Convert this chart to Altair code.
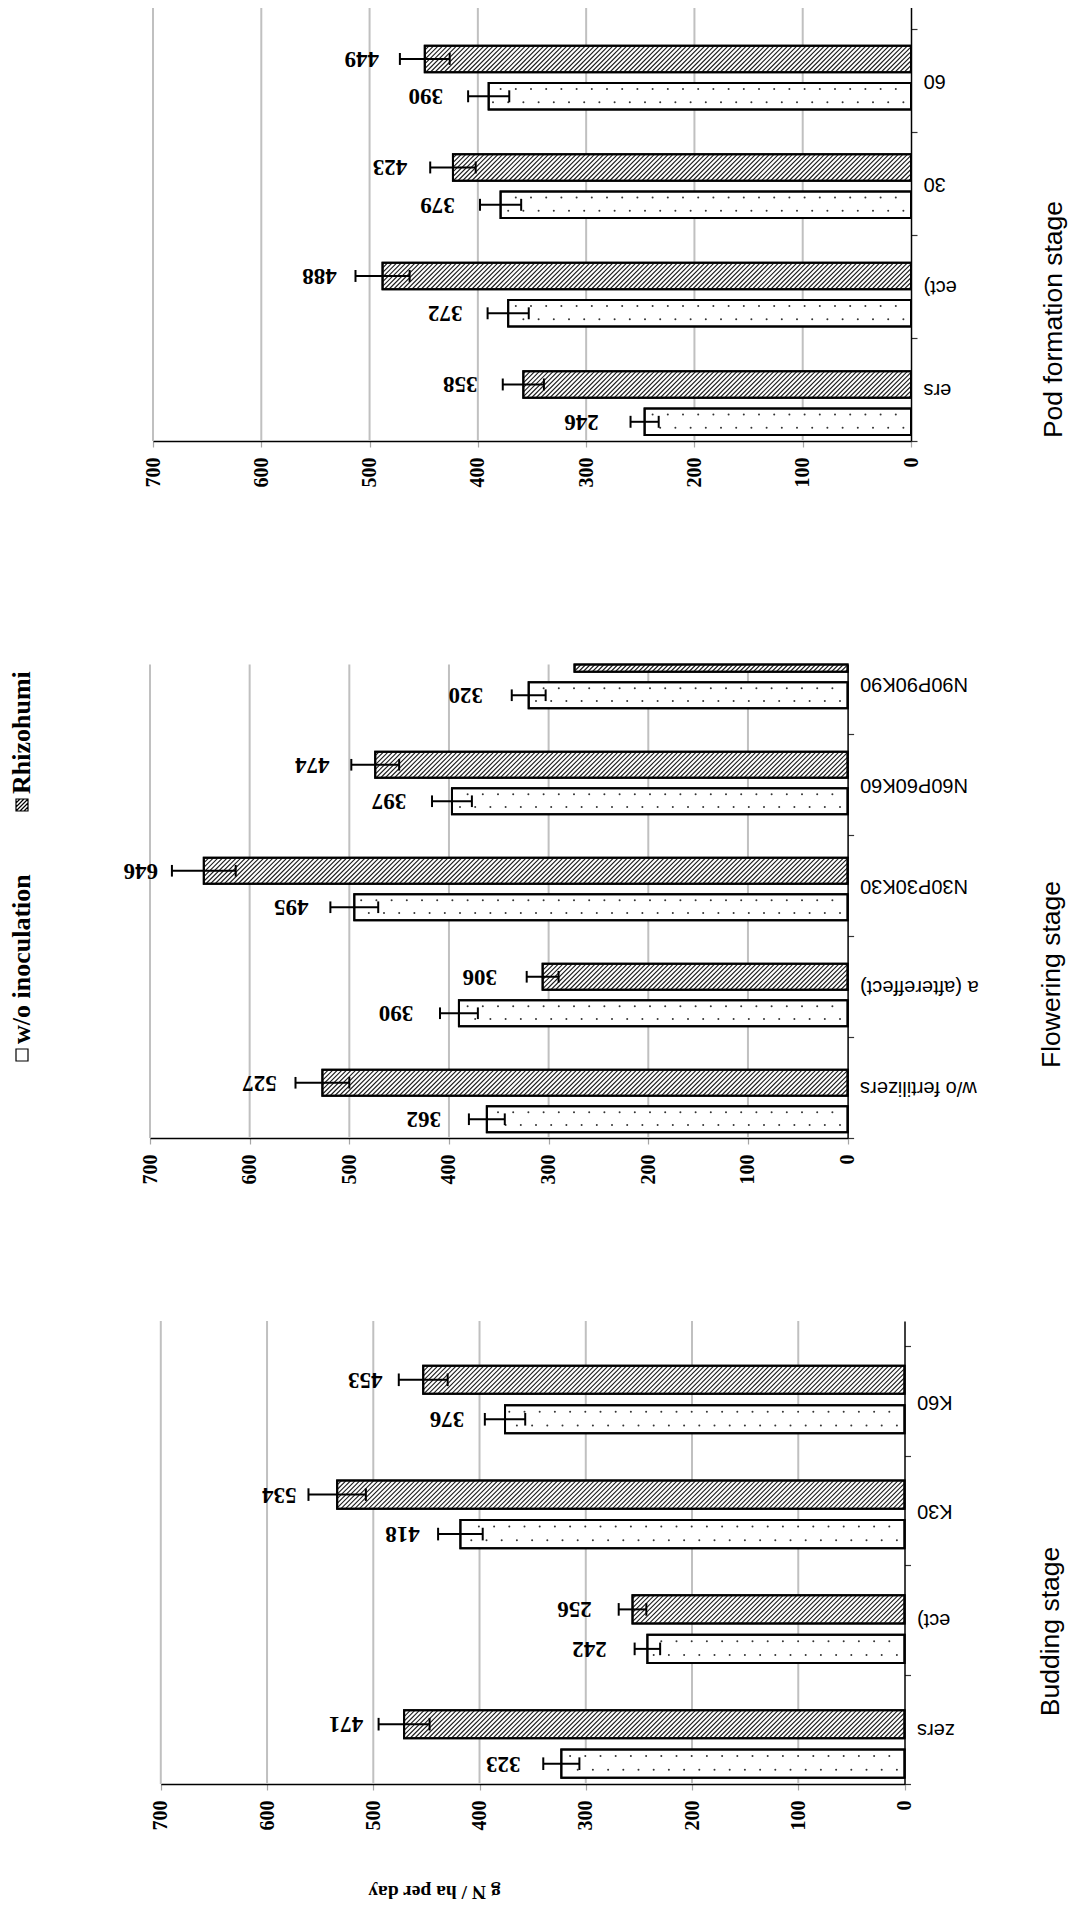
import json
import altair as alt
import pandas as pd

# ---------------- data ----------------
categories = ["w/o fertilizers", "a (aftereffect)", "N30P30K30", "N60P60K60", "N90P90K90"]
series = ["w/o inoculation", "Rhizohumin"]
stages = ["Pod formation stage", "Flowering stage", "Budding stage"]

# g N / ha per day ; None = outside the cropped picture
pod_ctrl = [246, 372, 379, 390, None]
pod_rhizo = [358, 488, 423, 449, None]
pod_ctrl_err = [13, 19, 19, 19, None]
pod_rhizo_err = [19, 25, 21, 23, None]

flow_ctrl = [362, 390, 495, 397, 320]
flow_rhizo = [527, 306, 646, 474, 274]
flow_ctrl_err = [18, 19, 24, 20, 17]
flow_rhizo_err = [27, 16, 32, 24, None]

bud_ctrl = [323, 242, 418, 376, None]
bud_rhizo = [471, 256, 534, 453, None]
bud_ctrl_err = [17, 12, 21, 19, None]
bud_rhizo_err = [24, 13, 27, 23, None]

# visible (cropped) category label text in each panel
pod_labels = ["ers", "ect)", "30", "60"]
flow_labels = ["w/o fertilizers", "a (aftereffect)", "N30P30K30", "N60P60K60", "N90P90K90"]
bud_labels = ["zers", "ect)", "K30", "K60"]

x_ticks = [0, 100, 200, 300, 400, 500, 600, 700]
value_title = "g N / ha per day"

# ---------------- layout ----------------
CANVAS_W, CANVAS_H = 1060, 1894
SLOT_OFFSET = {series[0]: 0.177, series[1]: 0.521}
HALF_BAR = 0.1225
CAP_HALF = 0.055
HATCH_STEP = 4.6
DOT_STEP = 15.2
HATCH_PATH = ("M-1,-1L1,-1L1,1L-1,1Z M-1,-0.33L-0.33,-1 M-1,0.33L0.33,-1 "
              "M-1,1L1,-1 M-0.33,1L1,-0.33 M0.33,1L1,0.33")

panels = [
    dict(stage=stages[0], ctrl=pod_ctrl, rhizo=pod_rhizo, ctrl_err=pod_ctrl_err,
         rhizo_err=pod_rhizo_err, labels=pod_labels, x0=903, x700=145, ybot=433,
         ytop=-2, bar_pitch=108.5, tick_pitch=103, title_pos=(1045, 311), label_dx=63),
    dict(stage=stages[1], ctrl=flow_ctrl, rhizo=flow_rhizo, ctrl_err=flow_ctrl_err,
         rhizo_err=flow_rhizo_err, labels=flow_labels, x0=839.6, x700=142, ybot=1130,
         ytop=656.5, bar_pitch=106, tick_pitch=101, title_pos=(1043, 966), label_dx=63),
    dict(stage=stages[2], ctrl=bud_ctrl, rhizo=bud_rhizo, ctrl_err=bud_ctrl_err,
         rhizo_err=bud_rhizo_err, labels=bud_labels, x0=896.5, x700=152.8, ybot=1776,
         ytop=1313, bar_pitch=114.8, tick_pitch=109.4, title_pos=(1042.5, 1623), label_dx=58,
         xtitle=value_title, xtitle_pos=(426, 1883)),
]


def build_panel(p):
    kx = (p["x0"] - p["x700"]) / 700.0
    pb = p["bar_pitch"]
    smax = (p["ybot"] - p["ytop"]) / pb
    vals = {series[0]: (p["ctrl"], p["ctrl_err"]), series[1]: (p["rhizo"], p["rhizo_err"])}
    bars, errs, caps, labels, hatch, dots = [], [], [], [], [], []
    for i, cat in enumerate(categories):
        for s in series:
            v = vals[s][0][i]
            e = vals[s][1][i]
            if v is None:
                continue
            yc = i + SLOT_OFFSET[s]
            y1 = yc - HALF_BAR
            if y1 >= smax:
                continue
            y2 = min(yc + HALF_BAR, smax)
            bars.append(dict(cat=cat, series=s, v=v, zero=0, y1=y1, y2=y2))
            if yc < smax:
                labels.append(dict(v=v, yc=yc, txt=str(v)))
                if e is not None:
                    errs.append(dict(lo=v - e, hi=v + e, yc=yc))
                    for xe in (v - e, v + e):
                        caps.append(dict(xe=xe, c1=yc - CAP_HALF, c2=yc + CAP_HALF))
            wpx = v * kx
            hpx = (y2 - y1) * pb
            if s == series[1]:
                c = HATCH_STEP / 2
                while c < wpx + hpx:
                    wa = max(0.0, c - wpx)
                    wb = min(hpx, c)
                    hatch.append(dict(xa=(c - wa) / kx, ya=y1 + wa / pb,
                                      xb=(c - wb) / kx, yb=y1 + wb / pb))
                    c += HATCH_STEP
            else:
                for frac, start in ((0.28, DOT_STEP / 2), (0.77, DOT_STEP)):
                    u = start
                    while u < wpx - 4:
                        dots.append(dict(xd=u / kx, yd=y1 + frac * (y2 - y1)))
                        u += DOT_STEP

    xs = alt.Scale(domain=[0, 700], range=[p["x0"], p["x700"]], nice=False, zero=False)
    ys = alt.Scale(domain=[0, smax], range=[p["ybot"], p["ytop"]], nice=False, zero=False)

    xkw = dict(orient="bottom", offset=p["ybot"] - CANVAS_H, values=x_ticks, format="d",
               grid=False, domainColor="black", domainWidth=1.5, tickColor="#a6a6a6",
               tickSize=6, tickWidth=1.2, labelAngle=270, labelAlign="right",
               labelBaseline="middle", labelPadding=10, labelFont="Liberation Serif",
               labelFontWeight="bold", labelFontSize=20, labelColor="black",
               labelFlush=False, labelOverlap=False)
    if p.get("xtitle"):
        tx, ty = p["xtitle_pos"]
        xkw.update(title=p["xtitle"], titleX=tx, titleY=ty - p["ybot"], titleAngle=180,
                   titleAlign="center", titleBaseline="middle", titleFont="Liberation Serif",
                   titleFontWeight="bold", titleFontSize=19.5, titleColor="black")
    else:
        xkw["title"] = None
    xaxis = alt.Axis(**xkw)

    tick_vals = [k * p["tick_pitch"] / pb for k in range(5)]
    labs = list(p["labels"]) + [""] * (5 - len(p["labels"]))
    ratio = pb / p["tick_pitch"]
    expr = json.dumps(labs) + "[round(datum.value * %.6f)]" % ratio
    tx, ty = p["title_pos"]
    yaxis = alt.Axis(orient="right", offset=p["x0"] - CANVAS_W, values=tick_vals, grid=False,
                     domainColor="black", domainWidth=1.5, tickColor="#333333", tickSize=6,
                     tickWidth=1.2, labelExpr=expr, labelAngle=180, labelAlign="right",
                     labelBaseline="middle", labelPadding=6, labelOffset=-p["tick_pitch"] / 2,
                     labelFont="Liberation Sans", labelFontSize=20, labelColor="black",
                     labelOverlap=False, labelFlush=False, labelLimit=400,
                     title=p["stage"], titleX=tx - p["x0"], titleY=ty, titleAngle=270,
                     titleAlign="center", titleBaseline="middle", titleFont="Liberation Sans",
                     titleFontSize=26.5, titleFontWeight="normal", titleColor="black")

    def X(f):
        return alt.X(f, type="quantitative", scale=xs, axis=xaxis)

    def Y(f):
        return alt.Y(f, type="quantitative", scale=ys, axis=yaxis)

    grid_df = pd.DataFrame({"g": x_ticks[1:], "g1": 0.0, "g2": smax})
    bars_df = pd.DataFrame(bars)

    grid = alt.Chart(grid_df).mark_rule(color="#c0c0c0", strokeWidth=2).encode(
        x=X("g"), y=Y("g1"), y2="g2")
    fill = alt.Chart(bars_df).mark_rect(fill="white", stroke="black", strokeWidth=2).encode(
        x=X("zero"), x2="v", y=Y("y1"), y2="y2")
    hatch_l = alt.Chart(pd.DataFrame(hatch)).mark_rule(color="#1a1a1a", strokeWidth=1.1).encode(
        x=X("xa"), x2="xb", y=Y("ya"), y2="yb")
    dots_l = alt.Chart(pd.DataFrame(dots)).mark_circle(size=4, color="#333333", opacity=1).encode(
        x=X("xd"), y=Y("yd"))
    outline = alt.Chart(bars_df).mark_rect(fillOpacity=0, stroke="black", strokeWidth=2).encode(
        x=X("zero"), x2="v", y=Y("y1"), y2="y2")
    err_l = alt.Chart(pd.DataFrame(errs)).mark_rule(color="black", strokeWidth=2).encode(
        x=X("lo"), x2="hi", y=Y("yc"))
    caps_l = alt.Chart(pd.DataFrame(caps)).mark_rule(color="black", strokeWidth=2).encode(
        x=X("xe"), y=Y("c1"), y2="c2")
    text_l = alt.Chart(pd.DataFrame(labels)).mark_text(
        angle=180, align="center", baseline="middle", dx=p["label_dx"],
        font="Liberation Serif", fontWeight="bold", fontSize=23, color="black").encode(
        x=X("v"), y=Y("yc"), text="txt:N")
    return alt.layer(grid, fill, hatch_l, dots_l, outline, err_l, caps_l, text_l)


panel_charts = [build_panel(p) for p in panels]

# legend (rotated, as in the picture; its top is cut at the flowering panel top)
leg_df = pd.DataFrame({"series": series})
leg_y = alt.Y("series:N", scale=alt.Scale(type="point", domain=series, range=[1047, 797], padding=0),
              axis=None)
leg_sym = alt.Chart(leg_df).mark_point(filled=True, fill="white", stroke="black", strokeWidth=1.2,
                                       size=144, opacity=1).encode(
    x=alt.value(14), y=leg_y,
    shape=alt.Shape("series:N", scale=alt.Scale(domain=series, range=["square", HATCH_PATH]),
                    legend=None))
leg_layers = [leg_sym]
for s, lim in ((series[0], 400), (series[1], 131)):
    leg_layers.append(
        alt.Chart(leg_df).transform_filter(alt.datum.series == s).mark_text(
            angle=270, align="left", baseline="middle", dx=11, limit=lim, ellipsis=" ",
            font="Liberation Serif", fontWeight="bold", fontSize=26, color="black").encode(
            x=alt.value(14), y=leg_y, text="series:N"))
legend = alt.layer(*leg_layers)

chart = alt.layer(*panel_charts, legend).resolve_scale(
    x="independent", y="independent"
).properties(
    width=CANVAS_W, height=CANVAS_H, padding=0, background="white",
    autosize=alt.AutoSizeParams(type="none")
).configure_view(strokeWidth=0)

chart.save("out.html", embed_options={"renderer": "svg", "actions": False})
